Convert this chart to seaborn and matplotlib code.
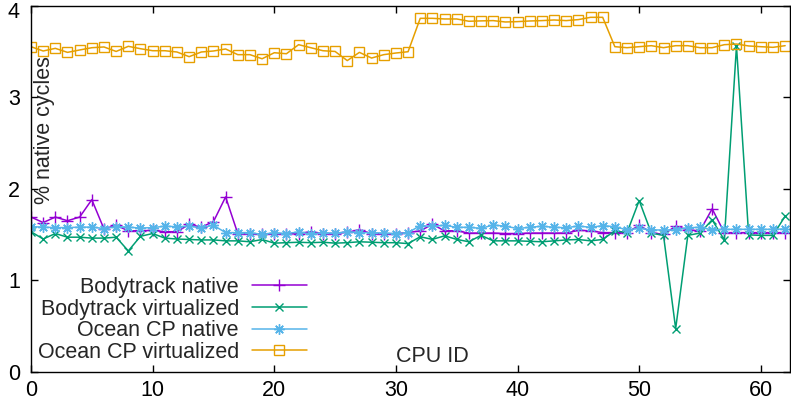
import numpy as np
import pandas as pd
import matplotlib
matplotlib.use("Agg")
import matplotlib.pyplot as plt
import matplotlib.transforms as mtransforms
import seaborn as sns

cpu_ids = list(range(63))

bodytrack_native = [1.69, 1.63, 1.69, 1.65, 1.69, 1.88, 1.56, 1.60, 1.54, 1.54,
                    1.545, 1.53, 1.53, 1.61, 1.58, 1.64, 1.91, 1.51, 1.50, 1.51,
                    1.505, 1.51, 1.51, 1.53, 1.51, 1.51, 1.525, 1.55, 1.51, 1.505,
                    1.51, 1.52, 1.54, 1.61, 1.54, 1.54, 1.515, 1.515, 1.515, 1.51,
                    1.51, 1.515, 1.515, 1.515, 1.515, 1.545, 1.54, 1.52, 1.52, 1.52,
                    1.60, 1.52, 1.50, 1.59, 1.55, 1.54, 1.78, 1.52, 1.52, 1.52,
                    1.52, 1.52, 1.52]

bodytrack_virtualized = [1.53, 1.45, 1.51, 1.47, 1.47, 1.46, 1.46, 1.47, 1.32, 1.48,
                         1.51, 1.46, 1.45, 1.445, 1.44, 1.44, 1.43, 1.43, 1.42, 1.445,
                         1.405, 1.41, 1.415, 1.41, 1.415, 1.405, 1.41, 1.42, 1.415, 1.41,
                         1.41, 1.40, 1.475, 1.446, 1.485, 1.446, 1.42, 1.49, 1.43, 1.43,
                         1.43, 1.425, 1.42, 1.43, 1.44, 1.445, 1.43, 1.445, 1.54, 1.52,
                         1.87, 1.515, 1.49, 0.47, 1.49, 1.515, 1.66, 1.44, 3.56, 1.495,
                         1.49, 1.49, 1.70]

ocean_native = [1.585, 1.58, 1.575, 1.575, 1.58, 1.58, 1.565, 1.585, 1.58, 1.57,
                1.575, 1.59, 1.585, 1.59, 1.575, 1.60, 1.52, 1.52, 1.52, 1.50,
                1.52, 1.51, 1.527, 1.505, 1.52, 1.512, 1.53, 1.52, 1.52, 1.515,
                1.51, 1.52, 1.596, 1.59, 1.60, 1.578, 1.578, 1.567, 1.603, 1.59,
                1.565, 1.578, 1.59, 1.578, 1.574, 1.592, 1.578, 1.596, 1.585, 1.55,
                1.567, 1.55, 1.548, 1.55, 1.574, 1.578, 1.55, 1.556, 1.556, 1.556,
                1.556, 1.556, 1.56]

ocean_virtualized = [3.552, 3.505, 3.534, 3.49, 3.516, 3.541, 3.549, 3.50, 3.556, 3.53,
                     3.508, 3.508, 3.494, 3.443, 3.494, 3.505, 3.527, 3.465, 3.465, 3.42,
                     3.486, 3.475, 3.574, 3.541, 3.508, 3.50, 3.40, 3.49, 3.428, 3.465,
                     3.483, 3.497, 3.862, 3.862, 3.855, 3.855, 3.83, 3.834, 3.837, 3.822,
                     3.826, 3.833, 3.837, 3.844, 3.837, 3.848, 3.873, 3.873, 3.552, 3.541,
                     3.552, 3.563, 3.541, 3.563, 3.563, 3.541, 3.541, 3.574, 3.581, 3.56,
                     3.552, 3.545, 3.563]

series_labels = ["Bodytrack native", "Bodytrack virtualized",
                 "Ocean CP native", "Ocean CP virtualized"]
x_ticks = [0, 10, 20, 30, 40, 50, 60]
y_ticks = [0, 1, 2, 3, 4]

FS = 15.5
sns.set_style("ticks")
plt.rcParams["font.family"] = ["Liberation Sans", "DejaVu Sans"]
plt.rcParams["font.size"] = FS

fig = plt.figure(figsize=(7.91, 4.05), dpi=100)
ax = fig.add_axes([31 / 791, 33.3 / 405, (790 - 31) / 791, (371.7 - 5.7) / 405])

styles = [
    dict(color="#9400d3", marker="+", ms=8, mew=1.0, mfc="none"),
    dict(color="#009e73", marker="x", ms=6, mew=1.0, mfc="none"),
    dict(color="#56b4e9", marker=(8, 2, 0), ms=7.5, mew=1.0, mfc="none"),
    dict(color="#e69f00", marker="s", ms=6.5, mew=1.0, mfc="none"),
]
data = [bodytrack_native, bodytrack_virtualized, ocean_native, ocean_virtualized]

for vals, lab, st in zip(data, series_labels, styles):
    df = pd.DataFrame({"cpu": cpu_ids, "val": vals})
    sns.lineplot(data=df, x="cpu", y="val", ax=ax, label=lab,
                 color=st["color"], marker=st["marker"], markersize=st["ms"],
                 markeredgewidth=st["mew"], markerfacecolor=st["mfc"],
                 markeredgecolor=st["color"], linewidth=1.1)

ax.set_xlim(0, 62.4)
ax.set_ylim(0, 4)
ax.set_xticks(x_ticks)
ax.set_yticks(y_ticks)
ax.set_xlabel("")
ax.set_ylabel("")
ax.tick_params(direction="in", length=5, width=1, top=True, right=True,
               labelsize=FS, colors="black")
ax.tick_params(axis="x", pad=6)
ax.tick_params(axis="y", pad=8)
for sp in ax.spines.values():
    sp.set_visible(True)
    sp.set_color("black")
    sp.set_linewidth(1.0)

# nudge the top y tick label down so it stays inside the figure
top_lab = ax.get_yticklabels()[-1]
top_lab.set_transform(top_lab.get_transform() +
                      mtransforms.ScaledTranslation(0, -4 / 100, fig.dpi_scale_trans))

fig.text(45 / 791, 1 - 56 / 405, "% native cycles", rotation=90,
         ha="center", va="top", fontsize=FS)
fig.text(396 / 791, 1 - 362 / 405, "CPU ID", ha="left", va="baseline", fontsize=FS)

leg = ax.legend(loc="upper right", bbox_to_anchor=(307 / 791, 1 - 277 / 405),
                bbox_transform=fig.transFigure, frameon=False, markerfirst=False,
                handlelength=2.56, handletextpad=0.6, labelspacing=0.03,
                borderpad=0, borderaxespad=0, fontsize=FS)
for col in leg._legend_handle_box.get_children():
    col.align = "right"

fig.savefig("out.png", dpi=100)
